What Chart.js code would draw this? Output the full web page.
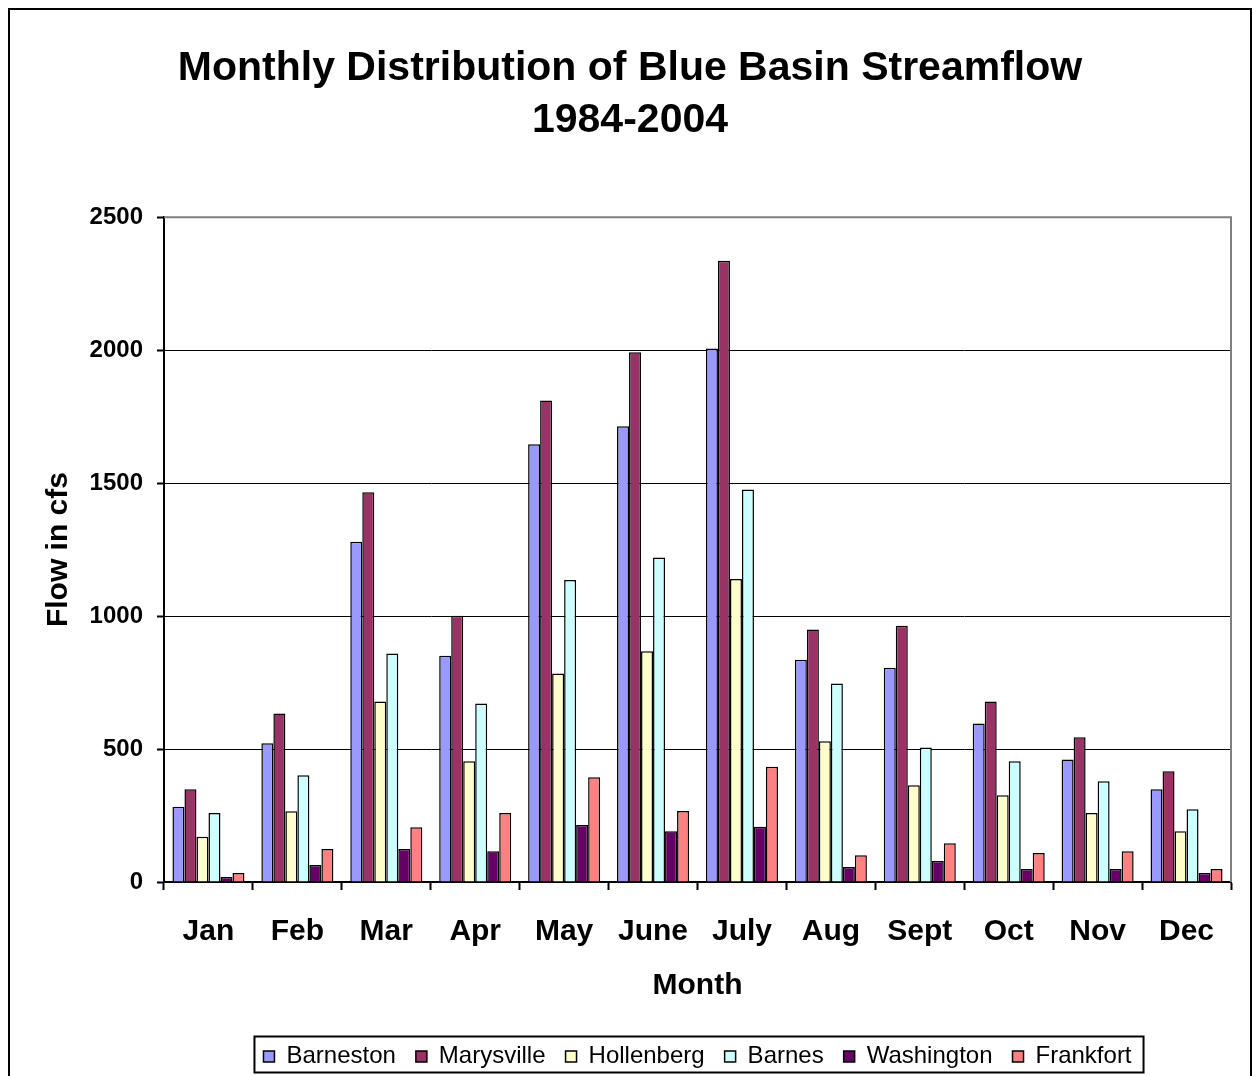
<!DOCTYPE html>
<html>
<head>
<meta charset="utf-8">
<title>Monthly Distribution of Blue Basin Streamflow</title>
<script src="https://cdn.jsdelivr.net/npm/chart.js@4.4.1/dist/chart.umd.min.js"></script>
<style>
    html, body { margin: 0; padding: 0; overflow: hidden; background: #ffffff; }
    #chart_frame {
        position: absolute;
        left: 8px;
        top: 8px;
        width: 1240px;
        height: 1100px;
        border: 2px solid #000000;
        background: #ffffff;
    }
    #streamflow_chart { display: block; }
</style>
</head>
<body>
<div id="chart_frame">
    <canvas id="streamflow_chart" width="1240" height="1100"></canvas>
</div>
<script>
// month labels along the x axis
var months = ["Jan", "Feb", "Mar", "Apr", "May", "June", "July", "Aug", "Sept", "Oct", "Nov", "Dec"];

// mean monthly flow in cfs, one list per gauge
var barneston  = [283, 522, 1279, 851, 1646, 1714, 2006, 836, 806, 596, 461, 349];
var marysville = [349, 634, 1466, 1001, 1811, 1992, 2336, 949, 964, 679, 544, 416];
var hollenberg = [170, 266, 679, 454, 784, 868, 1139, 529, 364, 326, 259, 191];
var barnes     = [259, 401, 859, 671, 1136, 1220, 1476, 746, 506, 454, 379, 274];
var washington = [19, 64, 124, 116, 214, 191, 208, 56, 79, 49, 49, 34];
var frankfort  = [34, 124, 206, 259, 394, 267, 433, 101, 146, 109, 116, 49];

var station_names = ["Barneston", "Marysville", "Hollenberg", "Barnes", "Washington", "Frankfort"];
var station_colors = ["#9999FF", "#993366", "#FFFFCC", "#CCFFFF", "#660066", "#FF8080"];

// y axis range and step
var y_min = 0;
var y_max = 2500;
var y_step = 500;

var font_family = "'Liberation Sans', Arial, Helvetica, sans-serif";

// gray border on top and right of the plot area, box round the legend
var frame_plugin = {
    id: "frame_plugin",
    afterDraw: function(chart) {
        var ctx = chart.ctx;
        var area = chart.chartArea;

        ctx.save();
        ctx.strokeStyle = "#808080";
        ctx.lineWidth = 2;
        ctx.beginPath();
        ctx.moveTo(area.left, area.top);
        ctx.lineTo(area.right, area.top);
        ctx.lineTo(area.right, area.bottom);
        ctx.stroke();

        var boxes = chart.legend.legendHitBoxes;
        if (boxes && boxes.length) {
            var left = boxes[0].left;
            var right = boxes[0].left + boxes[0].width;
            var top = boxes[0].top;
            var bottom = boxes[0].top + boxes[0].height;
            for (var i = 1; i < boxes.length; i++) {
                left = Math.min(left, boxes[i].left);
                right = Math.max(right, boxes[i].left + boxes[i].width);
                top = Math.min(top, boxes[i].top);
                bottom = Math.max(bottom, boxes[i].top + boxes[i].height);
            }
            ctx.strokeStyle = "#000000";
            ctx.lineWidth = 2;
            ctx.strokeRect(left - 9, top - 8, (right - left) + 21, (bottom - top) + 12);
        }
        ctx.restore();
    }
};

function make_streamflow_chart(){
    var series = [barneston, marysville, hollenberg, barnes, washington, frankfort];
    var datasets = [];

    for (var i = 0; i < series.length; i++) {
        datasets.push({
            label: station_names[i],
            data: series[i],
            backgroundColor: station_colors[i],
            borderColor: "#000000",
            borderWidth: 1.5,
            barPercentage: 1.0,
            categoryPercentage: 0.81
        });
    }

    Chart.defaults.font.family = font_family;
    Chart.defaults.color = "#000000";

    new Chart(document.getElementById("streamflow_chart"), {
        type: "bar",
        data: {
            labels: months,
            datasets: datasets
        },
        options: {
            responsive: false,
            animation: false,
            devicePixelRatio: 1,
            layout: {
                padding: { left: 19, right: 19, top: 0, bottom: 31.5 }
            },
            scales: {
                x: {
                    grid: {
                        display: true,
                        drawOnChartArea: false,
                        drawTicks: true,
                        tickLength: 8,
                        tickWidth: 2,
                        color: "#000000",
                        offset: true
                    },
                    border: { display: true, color: "#000000", width: 2 },
                    ticks: {
                        color: "#000000",
                        padding: 24,
                        maxRotation: 0,
                        autoSkip: false,
                        font: { size: 30, weight: "bold" }
                    },
                    title: {
                        display: true,
                        text: "Month",
                        color: "#000000",
                        font: { size: 30, weight: "bold" },
                        padding: { top: 0, bottom: 20.5 }
                    },
                    afterFit: function(scale) {
                        scale.height = 142.5;
                    }
                },
                y: {
                    min: y_min,
                    max: y_max,
                    grid: {
                        color: "#000000",
                        lineWidth: 1,
                        drawTicks: true,
                        tickLength: 7,
                        tickWidth: 2
                    },
                    border: { display: true, color: "#000000", width: 2 },
                    ticks: {
                        stepSize: y_step,
                        color: "#000000",
                        padding: 14,
                        font: { size: 24, weight: "bold" },
                        callback: function(value) {
                            return String(value); // plain numbers, no thousands comma
                        }
                    },
                    title: {
                        display: true,
                        text: "Flow in cfs",
                        color: "#000000",
                        font: { size: 30, weight: "bold" },
                        padding: { top: 11.5, bottom: 0 }
                    },
                    afterFit: function(scale) {
                        scale.width = 135;
                    }
                }
            },
            plugins: {
                title: {
                    display: true,
                    text: ["Monthly Distribution of Blue Basin Streamflow", "1984-2004"],
                    color: "#000000",
                    font: { size: 41, weight: "bold", lineHeight: 1.27 },
                    padding: { top: 33, bottom: 70 }
                },
                legend: {
                    display: true,
                    position: "bottom",
                    fullSize: false,
                    labels: {
                        color: "#000000",
                        boxWidth: 11,
                        boxHeight: 11,
                        padding: 20,
                        font: { size: 24 }
                    }
                },
                tooltip: { enabled: false }
            }
        },
        plugins: [frame_plugin]
    });
}

make_streamflow_chart();
</script>
</body>
</html>
